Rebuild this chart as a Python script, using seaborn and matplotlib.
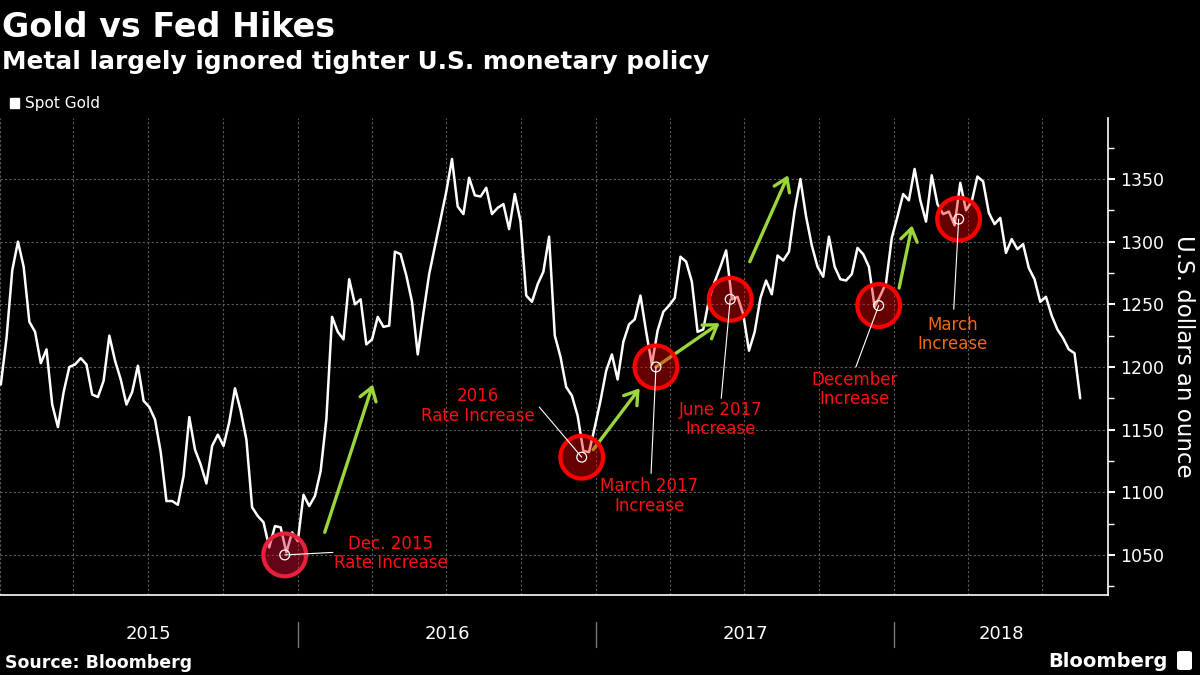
import matplotlib
matplotlib.use("Agg")
import seaborn as sns
import matplotlib.pyplot as plt
import matplotlib.dates as mdates
import matplotlib.transforms as mtransforms
import pandas as pd
from matplotlib.patches import Patch, FancyBboxPatch
from matplotlib.ticker import MultipleLocator

# WEEKLY SPOT GOLD (USD/OZ)
gold_2015 = [1186, 1223, 1277, 1300, 1280, 1236, 1228, 1203, 1214, 1170, 1152, 1180, 1200,
             1202, 1207, 1202, 1178, 1176, 1189, 1225, 1205, 1190, 1170, 1180, 1201, 1173,
             1168, 1158, 1132, 1093, 1093, 1090, 1113, 1160, 1134, 1122, 1107, 1137, 1146,
             1137, 1156, 1183, 1165, 1142, 1088, 1081, 1076, 1056, 1073, 1072, 1052, 1068]
gold_2016 = [1061, 1098, 1089, 1097, 1117, 1158, 1240, 1228, 1222, 1270, 1250, 1254, 1218,
             1222, 1240, 1232, 1233, 1292, 1290, 1273, 1252, 1210, 1243, 1274, 1296, 1318,
             1340, 1366, 1328, 1322, 1351, 1337, 1336, 1343, 1322, 1327, 1330, 1310, 1338,
             1316, 1257, 1252, 1266, 1276, 1304, 1225, 1208, 1184, 1177, 1161, 1133, 1132, 1152]
gold_2017 = [1173, 1197, 1210, 1190, 1220, 1234, 1238, 1257, 1228, 1202, 1229, 1244, 1249,
             1255, 1288, 1284, 1268, 1228, 1230, 1254, 1268, 1280, 1293, 1254, 1256, 1242,
             1213, 1228, 1255, 1269, 1258, 1289, 1285, 1292, 1325, 1350, 1320, 1297, 1280,
             1272, 1304, 1280, 1270, 1269, 1274, 1295, 1290, 1280, 1248, 1257, 1267, 1303]
gold_2018 = [1320, 1338, 1333, 1358, 1333, 1316, 1353, 1330, 1322, 1324, 1313, 1347, 1325,
             1332, 1352, 1348, 1323, 1314, 1319, 1291, 1302, 1294, 1298, 1279, 1270, 1252,
             1256, 1241, 1230, 1223, 1214, 1211, 1175]

prices = gold_2015 + gold_2016 + gold_2017 + gold_2018
dates = pd.date_range("2015-01-02", periods=len(prices), freq="W-FRI")
gold = pd.DataFrame({"date": dates, "price": prices})

# FED RATE HIKES
hike_dates = ["2015-12-16", "2016-12-14", "2017-03-15", "2017-06-14", "2017-12-13", "2018-03-21"]
hike_prices = [1050, 1128, 1200, 1254, 1249, 1318]
hike_labels = ["Dec. 2015\nRate Increase", "2016\nRate Increase", "March 2017\nIncrease",
               "June 2017\nIncrease", "December\nIncrease", "March\nIncrease"]
label_dates = ["2016-04-24", "2016-08-09", "2017-03-07", "2017-06-02", "2017-11-14", "2018-03-14"]
label_prices = [1051, 1169, 1097, 1158, 1182, 1226]
leader_dates = ["2016-02-13", "2016-10-23", "2017-03-09", "2017-06-03", "2017-11-15", "2018-03-15"]
leader_prices = [1052, 1168, 1115, 1175, 1200, 1246]

# GREEN "RALLY" ARROWS
arrow_from_dates = ["2016-02-03", "2016-12-28", "2017-03-15", "2017-07-08", "2018-01-07"]
arrow_from = [1068, 1134, 1200, 1284, 1263]
arrow_to_dates = ["2016-04-02", "2017-02-23", "2017-06-01", "2017-08-24", "2018-01-23"]
arrow_to = [1186, 1183, 1235, 1353, 1313]

years = [2015, 2016, 2017, 2018]
x_start, x_end = pd.Timestamp("2015-01-01"), pd.Timestamp("2018-09-20")

# STYLE
sns.set_theme(style="dark", rc={"axes.facecolor": "black", "figure.facecolor": "black",
                                "text.color": "white", "axes.labelcolor": "white",
                                "xtick.color": "white", "ytick.color": "white"})
plt.rcParams["font.family"] = ["DejaVu Sans"]

fig = plt.figure(figsize=(12, 6.75), dpi=100)
ax = fig.add_axes([0.0, 0.1185, 0.9233, 0.7067])

sns.lineplot(data=gold, x="date", y="price", color="white", lw=1.8, ax=ax, zorder=3)

ax.set_xlim(x_start, x_end)
ax.set_ylim(1018, 1398.7)

# AXES, TICKS, GRID
for side in ["top", "left"]:
    ax.spines[side].set_visible(False)
for side in ["right", "bottom"]:
    ax.spines[side].set_visible(True)
    ax.spines[side].set_color("white")
    ax.spines[side].set_linewidth(1.2)

ax.yaxis.tick_right()
ax.yaxis.set_label_position("right")
ax.yaxis.set_major_locator(MultipleLocator(50))
ax.yaxis.set_minor_locator(MultipleLocator(25))
ax.tick_params(axis="y", which="major", length=5, width=1.5, labelsize=12.5, pad=4)
ax.tick_params(axis="y", which="minor", length=4, width=1)
ax.set_ylabel("U.S. dollars an ounce", rotation=270, fontsize=16.5, labelpad=22)

ax.xaxis.set_major_locator(mdates.MonthLocator(bymonth=[1, 4, 7, 10]))
ax.xaxis.set_minor_locator(mdates.MonthLocator())
ax.tick_params(axis="x", which="both", length=4, width=1, color="#cccccc",
               labelbottom=False, direction="out")
ax.set_xlabel("")

ax.grid(True, which="major", axis="both", color="#5c5c5c", lw=0.8, ls=(0, (2, 2)))

# YEAR LABELS AND SEPARATORS UNDER THE AXIS
trans = mtransforms.blended_transform_factory(ax.transData, ax.transAxes)
for y in years:
    y0 = max(pd.Timestamp(f"{y}-01-01"), x_start)
    y1 = min(pd.Timestamp(f"{y + 1}-01-01"), x_end)
    ax.text(y0 + (y1 - y0) / 2, -0.082, str(y), transform=trans, ha="center", va="center",
            fontsize=13, color="white")
    if y0 > x_start:
        ax.plot([y0, y0], [-0.057, -0.11], transform=trans, color="#777777", lw=1,
                clip_on=False)

# ARROWS
for i in range(len(arrow_from)):
    ax.annotate("", xy=(pd.Timestamp(arrow_to_dates[i]), arrow_to[i]),
                xytext=(pd.Timestamp(arrow_from_dates[i]), arrow_from[i]),
                arrowprops=dict(arrowstyle="->,head_length=0.45,head_width=0.3",
                                mutation_scale=20, color="#9bd63c", lw=2.4,
                                shrinkA=0, shrinkB=0),
                zorder=4 if i != 2 else 3.5)

# HIKE CIRCLES
edge_cols = ["#e8203c", "#ff0000", "#ff0000", "#ff0000", "#ff0000", "#ff0000"]
face_cols = [(0.87, 0.05, 0.2, 0.45)] + [(0.96, 0.0, 0.0, 0.41)] * 5
hikes = pd.DataFrame({"date": pd.to_datetime(hike_dates), "price": hike_prices})
ax.scatter(hikes["date"], hikes["price"], s=950, facecolors=face_cols,
           edgecolors=edge_cols, linewidths=3, zorder=5)
ax.scatter(hikes["date"], hikes["price"], s=50, facecolors="none",
           edgecolors="white", linewidths=0.9, zorder=6)

# LEADER LINES AND LABELS
label_cols = ["#ff1010"] * 5 + ["#ee6a10"]
for i in range(len(hike_dates)):
    ax.plot([pd.Timestamp(hike_dates[i]), pd.Timestamp(leader_dates[i])],
            [hike_prices[i], leader_prices[i]], color="white", lw=0.8, zorder=6)
    ax.text(pd.Timestamp(label_dates[i]), label_prices[i], hike_labels[i], ha="center",
            va="center", fontsize=12, color=label_cols[i], linespacing=1.1, zorder=7)

# TITLES, LEGEND, FOOTER
fig.text(0.002, 1 - 37 / 675, "Gold vs Fed Hikes", fontsize=24, fontweight="bold",
         va="baseline", color="white")
fig.text(0.002, 1 - 69 / 675, "Metal largely ignored tighter U.S. monetary policy",
         fontsize=17.8, fontweight="bold", va="baseline", color="white")
fig.legend(handles=[Patch(facecolor="white", edgecolor="white", label="Spot Gold")],
           loc="upper left", bbox_to_anchor=(-0.003, 0.878), frameon=False, fontsize=11,
           handlelength=0.6, handleheight=0.6, handletextpad=0.35, labelcolor="white")
fig.text(0.004, 1 - 668 / 675, "Source: Bloomberg", fontsize=12.5, fontweight="bold",
         va="baseline", color="white")
fig.text(0.973, 1 - 667 / 675, "Bloomberg", fontsize=14, fontweight="bold",
         va="baseline", ha="right", color="white")
fig.patches.append(FancyBboxPatch((1177 / 1200, 5 / 675), 15 / 1200, 19 / 675,
                                  boxstyle="round,pad=0,rounding_size=0.003",
                                  transform=fig.transFigure, facecolor="white",
                                  edgecolor="none"))

fig.savefig("out.png", dpi=100, facecolor="black")
